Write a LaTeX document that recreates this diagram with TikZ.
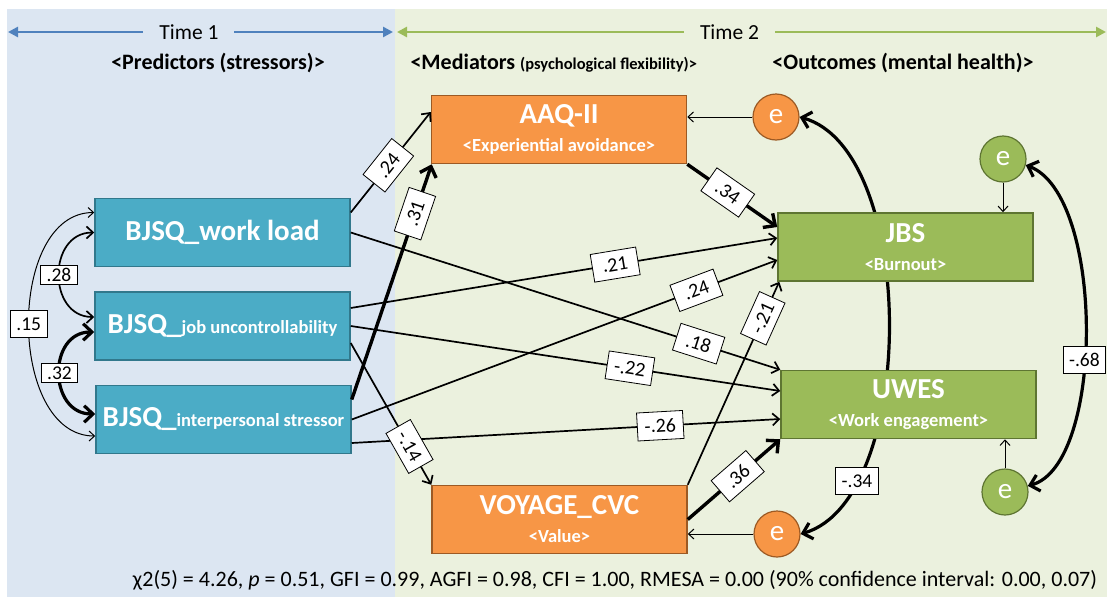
\documentclass[tikz,border=0pt]{standalone}
\usepackage{fontspec}
\setmainfont{Carlito}
\usepackage{tikz}
\usetikzlibrary{arrows,arrows.meta}
\usetikzlibrary{shapes,backgrounds}
\usetikzlibrary{positioning}
\usetikzlibrary{calc}

\definecolor{bgblue}{HTML}{DCE6F2}
\definecolor{bggreen}{HTML}{EBF1DE}
\definecolor{timeblue}{HTML}{4F81BD}
\definecolor{timegreen}{HTML}{9BBB59}
\definecolor{tealbox}{HTML}{4BACC6}
\definecolor{tealedge}{HTML}{31788C}
\definecolor{orangebox}{HTML}{F79646}
\definecolor{orangeedge}{HTML}{9C5A24}
\definecolor{greenbox}{HTML}{9BBB59}
\definecolor{greenedge}{HTML}{5E7532}

\tikzset{
  varbox/.style={draw, line width=1.5pt, minimum width=255pt, minimum height=68pt, inner sep=0pt,
    text=white, align=center, font=\bfseries\fontsize{18.5}{28}\selectfont},
  predbox/.style={varbox, fill=tealbox, draw=tealedge},
  medbox/.style={varbox, fill=orangebox, draw=orangeedge},
  outbox/.style={varbox, fill=greenbox, draw=greenedge},
  errnode/.style={circle, line width=1.2pt, minimum size=46pt, inner sep=0pt, text=white,
    font=\fontsize{29}{29}\selectfont},
  coef/.style={draw, fill=white, line width=0.8pt, minimum width=46pt, minimum height=28pt,
    inner sep=2pt, font=\fontsize{20}{20}\selectfont},
  covlbl/.style={draw, fill=white, line width=0.8pt, inner xsep=6pt, inner ysep=3pt,
    font=\fontsize{19.5}{19.5}\selectfont},
  head/.style={font=\bfseries\fontsize{22}{26}\selectfont},
  timetxt/.style={font=\fontsize{21.5}{24}\selectfont, inner xsep=16pt},
  timeline/.style={line width=2.6pt, {Triangle[length=10pt,width=10pt]}-{Triangle[length=10pt,width=10pt]}},
  >={Straight Barb[length=4pt 1.5, width=7pt 3]},
  weakpath/.style={->, line width=1pt},
  midpath/.style={->, line width=1.7pt},
  strongpath/.style={->, line width=3.4pt},
}

\begin{document}
\begin{tikzpicture}[x=1pt,y=-1pt]
\useasboundingbox (0,0) rectangle (1107,597);
\fill[bgblue] (7,9) rectangle (395,597);
\fill[bggreen] (395,9) rectangle (1107,597);

\coordinate (t1a) at (8,32);
\coordinate (t1b) at (393,32);
\coordinate (t2a) at (397,32);
\coordinate (t2b) at (1106,32);
\draw[timeline, draw=timeblue, fill=timeblue] (t1a) -- (t1b) node[timetxt, fill=bgblue, pos=0.47] (time1) {Time 1};
\draw[timeline, draw=timegreen, fill=timegreen] (t2a) -- (t2b) node[timetxt, fill=bggreen, pos=0.469] (time2) {Time 2};

\node[head] (hpred) at (218,63) {<Predictors (stressors)>};
\node[head, anchor=west] (hmed) at (407,63) {<Mediators {\fontsize{16.5}{18}\selectfont (psychological flexibility)>}};
\node[head] (hout) at (903,63) {<Outcomes (mental health)>};

\node[errnode, fill=orangebox, draw=orangeedge] (eA) at (776,117) {e};
\node[errnode, fill=orangebox, draw=orangeedge] (eV) at (777,534) {e};
\node[errnode, fill=greenbox, draw=greenedge] (eJ) at (1003,159) {e};
\node[errnode, fill=greenbox, draw=greenedge] (eU) at (1005,492) {e};

\draw[<->, line width=3.2pt] (eA.east) .. controls (918,150) and (918,500) .. (eV.east) node[covlbl, minimum height=27pt, pos=0.8, line width=0.8pt] (c34) {-.34};
\draw[<->, line width=3.2pt] (eJ.-15) .. controls (1105,195) and (1105,465) .. (eU.15) node[covlbl, minimum height=27pt, pos=0.57, line width=0.8pt] (c68) {-.68};

\node[predbox] (WL) at (222.5,232.5) {\fontsize{29}{29}\selectfont BJSQ\_work load};
\node[predbox] (JU) at (222.5,326) {{\fontsize{29}{29}\selectfont BJSQ\_}job uncontrollability};
\node[predbox] (IP) at (223.5,419.5) {{\fontsize{29}{29}\selectfont BJSQ\_}interpersonal stressor};
\node[medbox] (AAQ) at (559,129.5) {{\fontsize{29}{29}\selectfont AAQ-II}\\<Experiential avoidance>};
\node[medbox] (VOY) at (559.5,519.5) {{\fontsize{29}{29}\selectfont VOYAGE\_CVC}\\<Value>};
\node[outbox] (JBS) at (905.5,247) {{\fontsize{29}{29}\selectfont JBS}\\<Burnout>};
\node[outbox] (UWES) at (908.5,404.5) {{\fontsize{29}{29}\selectfont UWES}\\<Work engagement>};

\draw[<->, line width=1pt] ([yshift=20pt]WL.west) .. controls +(-88,0) and +(-88,0) .. ([yshift=-16.5pt]IP.west) node[covlbl, minimum height=27pt, pos=0.5] (c15) {.15};
\draw[<->, line width=1.7pt] (WL.west) .. controls +(-47,0) and +(-47,0) .. ([yshift=9pt]JU.west) node[covlbl, pos=0.5, line width=0.8pt] (c28) {.28};
\draw[<->, line width=3.2pt] ([yshift=-6pt]JU.west) .. controls +(-47,0) and +(-47,0) .. ([yshift=5.5pt]IP.west) node[covlbl, pos=0.5, line width=0.8pt] (c32) {.32};

\draw[midpath] ([yshift=20pt]WL.east) -- ([yshift=17.5pt]AAQ.west) node[coef, sloped, pos=0.47] (p24a) {.24};
\draw[strongpath] ([yshift=20pt]IP.east) -- ([xshift=1pt]AAQ.south west) node[coef, sloped, pos=0.79, line width=0.8pt] (p31) {.31};
\draw[midpath] (WL.east) -- (UWES.north west) node[coef, sloped, pos=0.81] (p18) {.18};
\draw[midpath] ([yshift=18pt]JU.east) -- ([yshift=9pt]JBS.west) node[coef, sloped, pos=0.62] (p21) {.21};
\draw[midpath] (JU.east) -- ([yshift=13.5pt]UWES.west) node[coef, sloped, pos=0.65] (p22) {-.22};
\draw[midpath] ([yshift=-23.5pt]IP.east) -- ([yshift=-14.5pt]UWES.west) node[coef, sloped, pos=0.72] (p26) {-.26};
\draw[midpath] (IP.east) -- ([yshift=-13pt]JBS.west) node[coef, sloped, pos=0.81] (p24b) {.24};
\draw[midpath] ([yshift=-17pt]JU.east) -- (VOY.north west) node[coef, sloped, pos=0.73] (p14) {-.14};
\draw[strongpath] (AAQ.south east) -- ([yshift=20pt]JBS.west) node[coef, sloped, pos=0.45, line width=0.8pt] (p34) {.34};
\draw[midpath] (VOY.north east) -- ([xshift=2pt]JBS.south west) node[coef, sloped, pos=0.82] (pm21) {-.21};
\draw[strongpath] (VOY.east) -- (UWES.south west) node[coef, sloped, pos=0.54, line width=0.8pt] (p36) {.36};

\draw[weakpath] (eA) -- (eA -| AAQ.east);
\draw[weakpath] (eV) -- (eV -| VOY.east);
\draw[weakpath] (eJ) -- (eJ |- JBS.north);
\draw[weakpath] (eU) -- (eU |- UWES.south);

\node[font=\fontsize{22}{24}\selectfont] (fit) at (615,580) {χ2(5) = 4.26, \textit{p} = 0.51, GFI = 0.99, AGFI = 0.98, CFI = 1.00, RMESA = 0.00 (90\% confidence interval: 0.00, 0.07)};
\end{tikzpicture}
\end{document}
